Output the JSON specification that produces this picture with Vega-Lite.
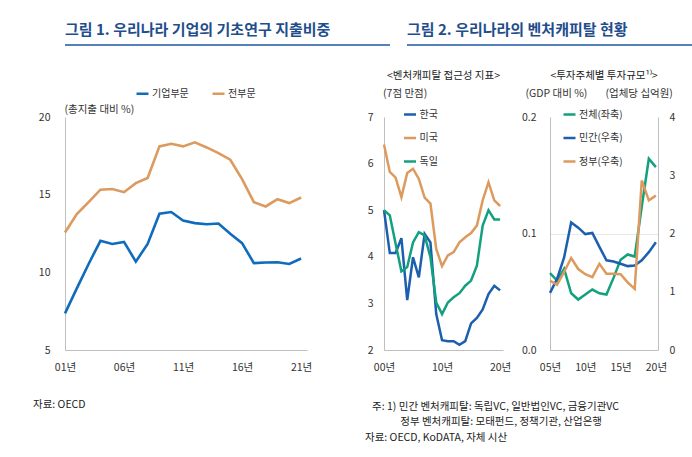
{
  "$schema": "https://vega.github.io/schema/vega-lite/v6.json",
  "background": "white",
  "padding": {"left": 18, "top": 23, "right": 6, "bottom": 6},
  "config": {
    "font": "Noto Sans CJK KR",
    "view": {"stroke": null},
    "axis": {"domainColor": "#bfbfbf", "domainWidth": 1, "labelColor": "#333333", "labelFontSize": 10.5, "labelFont": "Noto Sans CJK KR", "titleFont": "Noto Sans CJK KR", "titleFontSize": 10.5, "titleFontWeight": "normal", "titleColor": "#333333", "ticks": false, "grid": false, "labelFlush": false},
    "legend": {"labelFont": "Noto Sans CJK KR", "labelFontSize": 10, "labelColor": "#333333", "symbolType": "stroke", "symbolStrokeWidth": 2.5, "symbolSize": 144, "labelOffset": 2, "padding": 0},
    "title": {"font": "Noto Sans CJK KR"}
  },
  "datasets": {
    "c1": [
      {"year": 2001, "series": "기업부문", "value": 7.36}, {"year": 2002, "series": "기업부문", "value": 8.97}, {"year": 2003, "series": "기업부문", "value": 10.54}, {"year": 2004, "series": "기업부문", "value": 12.03}, {"year": 2005, "series": "기업부문", "value": 11.83}, {"year": 2006, "series": "기업부문", "value": 11.96}, {"year": 2007, "series": "기업부문", "value": 10.69}, {"year": 2008, "series": "기업부문", "value": 11.83}, {"year": 2009, "series": "기업부문", "value": 13.77}, {"year": 2010, "series": "기업부문", "value": 13.88}, {"year": 2011, "series": "기업부문", "value": 13.34}, {"year": 2012, "series": "기업부문", "value": 13.17}, {"year": 2013, "series": "기업부문", "value": 13.1}, {"year": 2014, "series": "기업부문", "value": 13.14}, {"year": 2015, "series": "기업부문", "value": 12.48}, {"year": 2016, "series": "기업부문", "value": 11.88}, {"year": 2017, "series": "기업부문", "value": 10.59}, {"year": 2018, "series": "기업부문", "value": 10.63}, {"year": 2019, "series": "기업부문", "value": 10.65}, {"year": 2020, "series": "기업부문", "value": 10.54}, {"year": 2021, "series": "기업부문", "value": 10.89},
      {"year": 2001, "series": "전부문", "value": 12.56}, {"year": 2002, "series": "전부문", "value": 13.75}, {"year": 2003, "series": "전부문", "value": 14.52}, {"year": 2004, "series": "전부문", "value": 15.32}, {"year": 2005, "series": "전부문", "value": 15.36}, {"year": 2006, "series": "전부문", "value": 15.16}, {"year": 2007, "series": "전부문", "value": 15.74}, {"year": 2008, "series": "전부문", "value": 16.07}, {"year": 2009, "series": "전부문", "value": 18.11}, {"year": 2010, "series": "전부문", "value": 18.28}, {"year": 2011, "series": "전부문", "value": 18.11}, {"year": 2012, "series": "전부문", "value": 18.37}, {"year": 2013, "series": "전부문", "value": 18.04}, {"year": 2014, "series": "전부문", "value": 17.68}, {"year": 2015, "series": "전부문", "value": 17.25}, {"year": 2016, "series": "전부문", "value": 16.0}, {"year": 2017, "series": "전부문", "value": 14.52}, {"year": 2018, "series": "전부문", "value": 14.24}, {"year": 2019, "series": "전부문", "value": 14.71}, {"year": 2020, "series": "전부문", "value": 14.46}, {"year": 2021, "series": "전부문", "value": 14.82}
    ],
    "c2": [
      {"year": 2000, "country": "한국", "value": 5.0}, {"year": 2001, "country": "한국", "value": 4.08}, {"year": 2002, "country": "한국", "value": 4.08}, {"year": 2003, "country": "한국", "value": 4.4}, {"year": 2004, "country": "한국", "value": 3.07}, {"year": 2005, "country": "한국", "value": 3.99}, {"year": 2006, "country": "한국", "value": 3.56}, {"year": 2007, "country": "한국", "value": 4.49}, {"year": 2008, "country": "한국", "value": 4.31}, {"year": 2009, "country": "한국", "value": 2.77}, {"year": 2010, "country": "한국", "value": 2.21}, {"year": 2011, "country": "한국", "value": 2.19}, {"year": 2012, "country": "한국", "value": 2.19}, {"year": 2013, "country": "한국", "value": 2.11}, {"year": 2014, "country": "한국", "value": 2.19}, {"year": 2015, "country": "한국", "value": 2.57}, {"year": 2016, "country": "한국", "value": 2.69}, {"year": 2017, "country": "한국", "value": 2.87}, {"year": 2018, "country": "한국", "value": 3.2}, {"year": 2019, "country": "한국", "value": 3.38}, {"year": 2020, "country": "한국", "value": 3.28},
      {"year": 2000, "country": "미국", "value": 6.41}, {"year": 2001, "country": "미국", "value": 5.82}, {"year": 2002, "country": "미국", "value": 5.7}, {"year": 2003, "country": "미국", "value": 5.28}, {"year": 2004, "country": "미국", "value": 5.8}, {"year": 2005, "country": "미국", "value": 5.89}, {"year": 2006, "country": "미국", "value": 5.67}, {"year": 2007, "country": "미국", "value": 5.27}, {"year": 2008, "country": "미국", "value": 5.14}, {"year": 2009, "country": "미국", "value": 4.17}, {"year": 2010, "country": "미국", "value": 3.8}, {"year": 2011, "country": "미국", "value": 4.03}, {"year": 2012, "country": "미국", "value": 4.1}, {"year": 2013, "country": "미국", "value": 4.31}, {"year": 2014, "country": "미국", "value": 4.42}, {"year": 2015, "country": "미국", "value": 4.51}, {"year": 2016, "country": "미국", "value": 4.67}, {"year": 2017, "country": "미국", "value": 5.21}, {"year": 2018, "country": "미국", "value": 5.6}, {"year": 2019, "country": "미국", "value": 5.21}, {"year": 2020, "country": "미국", "value": 5.09},
      {"year": 2000, "country": "독일", "value": 5.0}, {"year": 2001, "country": "독일", "value": 4.89}, {"year": 2002, "country": "독일", "value": 4.28}, {"year": 2003, "country": "독일", "value": 3.69}, {"year": 2004, "country": "독일", "value": 3.78}, {"year": 2005, "country": "독일", "value": 4.31}, {"year": 2006, "country": "독일", "value": 4.53}, {"year": 2007, "country": "독일", "value": 4.46}, {"year": 2008, "country": "독일", "value": 3.99}, {"year": 2009, "country": "독일", "value": 3.02}, {"year": 2010, "country": "독일", "value": 2.77}, {"year": 2011, "country": "독일", "value": 3.02}, {"year": 2012, "country": "독일", "value": 3.13}, {"year": 2013, "country": "독일", "value": 3.22}, {"year": 2014, "country": "독일", "value": 3.38}, {"year": 2015, "country": "독일", "value": 3.49}, {"year": 2016, "country": "독일", "value": 3.81}, {"year": 2017, "country": "독일", "value": 4.67}, {"year": 2018, "country": "독일", "value": 5.0}, {"year": 2019, "country": "독일", "value": 4.8}, {"year": 2020, "country": "독일", "value": 4.8}
    ],
    "c3": [
      {"year": 2005, "series": "전체(좌축)", "value": 0.0659}, {"year": 2006, "series": "전체(좌축)", "value": 0.0596}, {"year": 2007, "series": "전체(좌축)", "value": 0.0696}, {"year": 2008, "series": "전체(좌축)", "value": 0.0487}, {"year": 2009, "series": "전체(좌축)", "value": 0.0433}, {"year": 2010, "series": "전체(좌축)", "value": 0.0476}, {"year": 2011, "series": "전체(좌축)", "value": 0.0519}, {"year": 2012, "series": "전체(좌축)", "value": 0.0487}, {"year": 2013, "series": "전체(좌축)", "value": 0.0476}, {"year": 2014, "series": "전체(좌축)", "value": 0.0619}, {"year": 2015, "series": "전체(좌축)", "value": 0.0774}, {"year": 2016, "series": "전체(좌축)", "value": 0.082}, {"year": 2017, "series": "전체(좌축)", "value": 0.0802}, {"year": 2018, "series": "전체(좌축)", "value": 0.1232}, {"year": 2019, "series": "전체(좌축)", "value": 0.1642}, {"year": 2020, "series": "전체(좌축)", "value": 0.157},
      {"year": 2005, "series": "민간(우축)", "value": 0.98}, {"year": 2006, "series": "민간(우축)", "value": 1.22}, {"year": 2007, "series": "민간(우축)", "value": 1.59}, {"year": 2008, "series": "민간(우축)", "value": 2.19}, {"year": 2009, "series": "민간(우축)", "value": 2.1}, {"year": 2010, "series": "민간(우축)", "value": 1.99}, {"year": 2011, "series": "민간(우축)", "value": 2.01}, {"year": 2012, "series": "민간(우축)", "value": 1.77}, {"year": 2013, "series": "민간(우축)", "value": 1.54}, {"year": 2014, "series": "민간(우축)", "value": 1.52}, {"year": 2015, "series": "민간(우축)", "value": 1.48}, {"year": 2016, "series": "민간(우축)", "value": 1.44}, {"year": 2017, "series": "민간(우축)", "value": 1.45}, {"year": 2018, "series": "민간(우축)", "value": 1.54}, {"year": 2019, "series": "민간(우축)", "value": 1.68}, {"year": 2020, "series": "민간(우축)", "value": 1.85},
      {"year": 2005, "series": "정부(우축)", "value": 1.19}, {"year": 2006, "series": "정부(우축)", "value": 1.12}, {"year": 2007, "series": "정부(우축)", "value": 1.34}, {"year": 2008, "series": "정부(우축)", "value": 1.58}, {"year": 2009, "series": "정부(우축)", "value": 1.39}, {"year": 2010, "series": "정부(우축)", "value": 1.3}, {"year": 2011, "series": "정부(우축)", "value": 1.25}, {"year": 2012, "series": "정부(우축)", "value": 1.48}, {"year": 2013, "series": "정부(우축)", "value": 1.31}, {"year": 2014, "series": "정부(우축)", "value": 1.31}, {"year": 2015, "series": "정부(우축)", "value": 1.3}, {"year": 2016, "series": "정부(우축)", "value": 1.16}, {"year": 2017, "series": "정부(우축)", "value": 1.05}, {"year": 2018, "series": "정부(우축)", "value": 2.91}, {"year": 2019, "series": "정부(우축)", "value": 2.57}, {"year": 2020, "series": "정부(우축)", "value": 2.65}
    ]
  },
  "spacing": 25,
  "resolve": {"scale": {"color": "independent"}, "legend": {"color": "independent"}},
  "vconcat": [
    {
      "bounds": "flush",
      "spacing": 17,
      "hconcat": [
        {
          "width": 325, "height": 1,
          "title": {"text": "그림 1. 우리나라 기업의 기초연구 지출비중", "anchor": "start", "frame": "group", "fontSize": 15, "fontWeight": "bold", "color": "#1f4e8c", "offset": 6},
          "data": {"values": [{"v": 1}]},
          "mark": {"type": "rule", "color": "#1f56a0", "strokeWidth": 1.5},
          "encoding": {"y": {"field": "v", "type": "quantitative", "scale": {"domain": [0, 1]}, "axis": null}}
        },
        {
          "width": 318, "height": 1,
          "title": {"text": "그림 2. 우리나라의 벤처캐피탈 현황", "anchor": "start", "frame": "group", "fontSize": 15, "fontWeight": "bold", "color": "#1f4e8c", "offset": 6},
          "data": {"values": [{"v": 1}]},
          "mark": {"type": "rule", "color": "#1f56a0", "strokeWidth": 1.5},
          "encoding": {"y": {"field": "v", "type": "quantitative", "scale": {"domain": [0, 1]}, "axis": null}}
        }
      ]
    },
    {
      "bounds": "flush",
      "spacing": 77,
      "resolve": {"scale": {"color": "independent"}, "legend": {"color": "independent"}},
      "hconcat": [
        {
          "width": 242, "height": 233,
          "data": {"name": "c1"},
          "title": {"text": "자료: OECD", "orient": "bottom", "anchor": "start", "frame": "group", "dx": -32, "offset": 27, "fontSize": 10.5, "fontWeight": "normal", "color": "#222222"},
          "mark": {"type": "line", "strokeWidth": 2.6},
          "encoding": {
            "x": {"field": "year", "type": "quantitative", "scale": {"domain": [2001, 2021.5], "nice": false, "zero": false}, "axis": {"values": [2001, 2006, 2011, 2016, 2021], "labelExpr": "substring(toString(datum.value), 2) + '년'", "title": null, "labelPadding": 12}},
            "y": {"field": "value", "type": "quantitative", "scale": {"domain": [5, 20], "nice": false, "zero": false}, "axis": {"values": [5, 10, 15, 20], "title": "(총지출 대비 %)", "titleAngle": 0, "titleAlign": "left", "titleBaseline": "middle", "titleX": -1, "titleY": -8, "labelPadding": 15, "minExtent": 47}},
            "color": {"field": "series", "type": "nominal", "scale": {"domain": ["기업부문", "전부문"], "range": ["#0f6cbd", "#dc9a5e"]}, "legend": {"orient": "none", "direction": "horizontal", "legendX": 70, "legendY": -31, "title": null, "columnPadding": 18}}
          }
        },
        {
          "bounds": "flush",
          "spacing": 47,
          "resolve": {"scale": {"color": "independent"}, "legend": {"color": "independent"}},
          "title": {"text": ["\u200b\u00a0\u00a0\u00a0주: 1) 민간 벤처캐피탈: 독립VC, 일반법인VC, 금융기관VC", "\u200b\u00a0\u00a0\u00a0\u00a0\u00a0\u00a0\u00a0\u00a0\u00a0\u00a0\u00a0\u00a0\u00a0\u00a0\u00a0정부 벤처캐피탈: 모태펀드, 정책기관, 산업은행", "자료: OECD, KoDATA, 자체 시산"], "orient": "bottom", "anchor": "start", "frame": "group", "dx": -19, "offset": 29, "fontSize": 10.5, "fontWeight": "normal", "color": "#222222", "lineHeight": 15.5},
          "hconcat": [
            {
              "width": 119, "height": 233,
              "data": {"name": "c2"},
              "title": {"text": "<벤처캐피탈 접근성 지표>", "anchor": "middle", "frame": "group", "fontSize": 10.5, "fontWeight": "normal", "color": "#222222", "offset": 7},
              "mark": {"type": "line", "strokeWidth": 2.5},
              "encoding": {
                "x": {"field": "year", "type": "quantitative", "scale": {"domain": [2000, 2020.5], "nice": false, "zero": false}, "axis": {"values": [2000, 2010, 2020], "labelExpr": "substring(toString(datum.value), 2) + '년'", "title": null, "labelPadding": 12}},
                "y": {"field": "value", "type": "quantitative", "scale": {"domain": [2, 7], "nice": false, "zero": false}, "axis": {"values": [2, 3, 4, 5, 6, 7], "title": "(7점 만점)", "titleAngle": 0, "titleAlign": "left", "titleBaseline": "middle", "titleX": -1.5, "titleY": -23.4, "labelPadding": 11}},
                "color": {"field": "country", "type": "nominal", "scale": {"domain": ["한국", "미국", "독일"], "range": ["#1b5fae", "#dc9a5e", "#13a07f"]}, "legend": {"orient": "none", "direction": "vertical", "legendX": 18.5, "legendY": -10, "title": null, "rowPadding": 10.5}}
              }
            },
            {
              "width": 108, "height": 233,
              "data": {"name": "c3"},
              "title": {"text": "<투자주체별 투자규모¹⁾>", "anchor": "middle", "frame": "group", "fontSize": 10.5, "fontWeight": "normal", "color": "#222222", "offset": 7},
              "encoding": {
                "x": {"field": "year", "type": "quantitative", "scale": {"domain": [2005, 2020.3], "nice": false, "zero": false}, "axis": {"values": [2005, 2010, 2015, 2020], "labelExpr": "substring(toString(datum.value), 2) + '년'", "title": null, "labelPadding": 12}}
              },
              "layer": [
                {
                  "transform": [{"filter": "datum.series === '전체(좌축)'"}],
                  "mark": {"type": "line", "strokeWidth": 2.5},
                  "encoding": {
                    "y": {"field": "value", "type": "quantitative", "scale": {"domain": [0, 0.2], "nice": false, "zero": false}, "axis": {"values": [0, 0.1, 0.2], "format": ".1f", "title": "(GDP 대비 %)", "titleAngle": 0, "titleAlign": "left", "titleBaseline": "middle", "titleX": -25, "titleY": -23.4, "labelPadding": 14, "grid": true, "gridColor": "#e8e8e8", "gridOpacity": {"condition": {"test": "datum.value === 0.1", "value": 1}, "value": 0}}},
                    "color": {"field": "series", "type": "nominal", "scale": {"domain": ["전체(좌축)", "민간(우축)", "정부(우축)"], "range": ["#13a07f", "#1b5fae", "#dc9a5e"]}, "legend": {"orient": "none", "direction": "vertical", "legendX": 12, "legendY": -10, "title": null, "rowPadding": 10.5}}
                  }
                },
                {
                  "transform": [{"filter": "datum.series !== '전체(좌축)'"}],
                  "mark": {"type": "line", "strokeWidth": 2.5},
                  "encoding": {
                    "y": {"field": "value", "type": "quantitative", "scale": {"domain": [0, 4], "nice": false, "zero": false}, "axis": {"orient": "right", "values": [0, 1, 2, 3, 4], "title": "(업체당 십억원)", "titleAngle": 0, "titleAlign": "left", "titleBaseline": "middle", "titleX": -53, "titleY": -23.4, "labelPadding": 11}},
                    "color": {"field": "series", "type": "nominal", "scale": {"domain": ["전체(좌축)", "민간(우축)", "정부(우축)"], "range": ["#13a07f", "#1b5fae", "#dc9a5e"]}}
                  }
                }
              ],
              "resolve": {"scale": {"y": "independent"}}
            }
          ]
        }
      ]
    }
  ]
}
